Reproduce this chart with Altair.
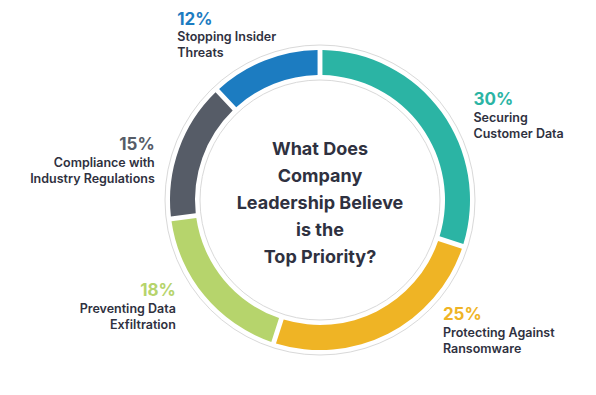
import altair as alt
import pandas as pd

# ---- data ----
categories = ["Securing Customer Data", "Protecting Against Ransomware",
              "Preventing Data Exfiltration", "Compliance with Industry Regulations",
              "Stopping Insider Threats"]
name_lines = ["Securing\nCustomer Data", "Protecting Against\nRansomware",
              "Preventing Data\nExfiltration", "Compliance with \nIndustry Regulations",
              "Stopping Insider\nThreats"]
values = [30, 25, 18, 15, 12]
colors = ["#2bb4a4", "#efb425", "#b6d46c", "#565c67", "#1c7cc1"]
title_lines = ["What Does", "Company", "Leadership Believe", "is the", "Top Priority?"]

# ---- layout / style (not data) ----
label_style = {
    # category: (align, dx, dy)
    "Securing Customer Data": ("left", 20, 2),
    "Protecting Against Ransomware": ("left", 48, -27),
    "Preventing Data Exfiltration": ("right", -17, -9),
    "Compliance with Industry Regulations": ("right", -10, 6),
    "Stopping Insider Threats": ("left", -82, -22),
}
TEXT = "#2f3140"
FONT = "Inter"

df = pd.DataFrame({"cat": categories, "name": name_lines, "value": values,
                   "idx": list(range(len(categories)))})

theta_scale = alt.Scale(domain=[0, 100])
color_scale = alt.Scale(domain=categories, range=colors)

base = (alt.Chart(df)
        .transform_stack(stack="value", as_=["start", "end"], groupby=[],
                         sort=[alt.SortField("idx", order="ascending")])
        .transform_calculate(mid="(datum.start + datum.end) / 2",
                             pct="datum.value + '%'"))

outline = alt.Chart(pd.DataFrame({"a": [0]})).mark_arc(
    radius=155, radius2=120, filled=False, stroke="#d9d9d9", strokeWidth=1
).encode(theta=alt.value(0), theta2=alt.value(6.2832))

arcs = base.mark_arc(radius=150, radius2=125, padAngle=0.025).encode(
    theta=alt.Theta("start:Q", scale=theta_scale),
    theta2="end:Q",
    color=alt.Color("cat:N", scale=color_scale, legend=None),
)

layers = [outline, arcs]
for c in categories:
    align, dx, dy = label_style[c]
    sub = base.transform_filter(alt.datum.cat == c)
    layers.append(sub.mark_text(radius=165, align=align, dx=dx, dy=dy, baseline="alphabetic",
                                font=FONT, fontSize=17, fontWeight="bold").encode(
        theta=alt.Theta("mid:Q", scale=theta_scale),
        text="pct:N",
        color=alt.Color("cat:N", scale=color_scale, legend=None),
    ))
    layers.append(sub.mark_text(radius=165, align=align, dx=dx, dy=dy + 16.5, baseline="alphabetic",
                                lineBreak="\n", lineHeight=16,
                                font=FONT, fontSize=12.5, fontWeight=600, color=TEXT).encode(
        theta=alt.Theta("mid:Q", scale=theta_scale),
        text="name:N",
    ))

title = alt.Chart(pd.DataFrame({"t": ["\n".join(title_lines)]})).mark_text(
    align="center", baseline="alphabetic", lineBreak="\n", lineHeight=27, dy=-45,
    font=FONT, fontSize=18, fontWeight="bold", color=TEXT
).encode(theta=alt.value(0), radius=alt.value(0), text="t:N")
layers.append(title)

chart = alt.layer(*layers).properties(
    width=536, height=364,
    padding={"left": 44, "top": 10, "right": 0, "bottom": 0},
    autosize=alt.AutoSizeParams(type="none"),
).configure_view(stroke=None)

chart.save("out.html", embed_options={"renderer": "svg", "actions": False})
